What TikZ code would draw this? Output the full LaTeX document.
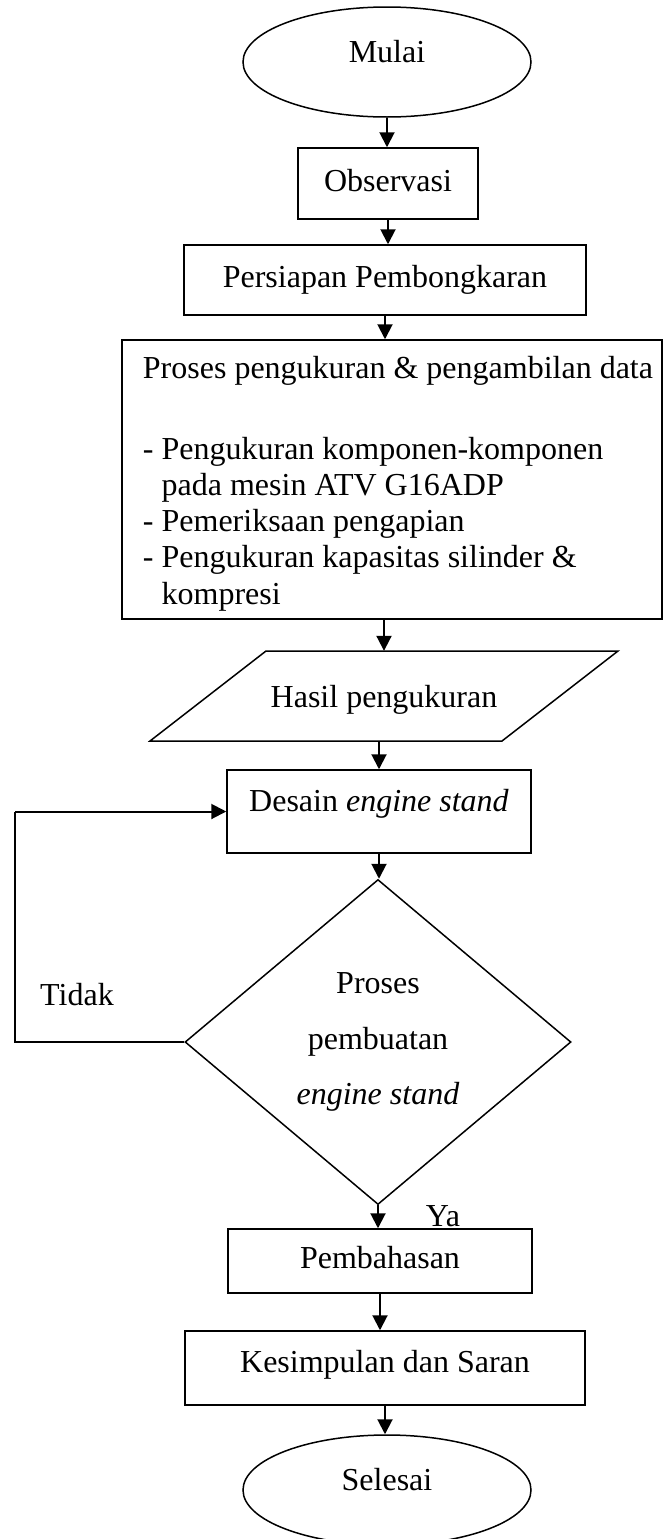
\documentclass[tikz,border=0pt]{standalone}
\usepackage{fontspec}
\setmainfont{Liberation Serif}
\usetikzlibrary{shapes.geometric,arrows.meta,calc}
\begin{document}
\begin{tikzpicture}[x=1pt,y=-1pt,
  every node/.style={font=\fontsize{32}{36.3}\selectfont},
  box/.style={draw, line width=1.5pt, rectangle, inner sep=0pt, text height=22pt, text depth=7pt},
  bigbox/.style={draw, line width=1.5pt, rectangle, inner sep=0pt},
  term/.style={draw, line width=1.5pt, ellipse, inner sep=0pt, minimum width=288pt, minimum height=110pt, text height=22pt, text depth=22pt},
  decision/.style={draw, line width=1.5pt, diamond, inner sep=0pt, minimum width=386pt, minimum height=325pt, align=center, font=\fontsize{32}{55.5}\selectfont},
  arr/.style={line width=2pt, -{Triangle[length=15pt,width=15pt]}},
  conn/.style={line width=2pt},
  outline/.style={line width=1.5pt},
  lbl/.style={inner sep=0pt}]
\useasboundingbox (0,0) rectangle (663,1539);

\node[term] (mulai) at (387,62) {Mulai};
\node[box, minimum width=180pt, minimum height=71pt] (obs) at (388,183.5) {Observasi};
\node[box, minimum width=402pt, minimum height=70pt] (pers) at (385,280) {Persiapan Pembongkaran};
\node[bigbox, minimum width=540pt, minimum height=279pt, text height=38pt, text depth=241pt] (proses) at (392,479.5)
  {\hspace*{12pt}\begin{tabular}[t]{@{}l@{}}
   Proses pengukuran \& pengambilan data\\[44.7pt]
   - Pengukuran komponen-komponen\\
   \hspace*{18.7pt}pada mesin ATV G16ADP\\
   - Pemeriksaan pengapian\\
   - Pengukuran kapasitas silinder \&\\
   \hspace*{18.7pt}kompresi
   \end{tabular}};
\node[rectangle, inner sep=0pt, minimum width=352pt, minimum height=90pt, text height=22pt, text depth=0pt] (hasil) at (384,696) {Hasil pengukuran};
\draw[outline] ($(hasil.center)+(-118,-45)$) -- ($(hasil.center)+(234,-45)$) -- ($(hasil.center)+(118,45)$) -- ($(hasil.center)+(-234,45)$) -- cycle;
\node[box, minimum width=304pt, minimum height=83pt, text depth=22pt] (desain) at (379,811.5) {Desain \textit{engine stand}};
\node[decision] (dia) at (378,1042) {Proses\\pembuatan\\\textit{engine stand}};
\node[box, minimum width=304pt, minimum height=64pt] (pemb) at (380,1261) {Pembahasan};
\node[box, minimum width=400pt, minimum height=74pt, text depth=14pt] (kes) at (385,1368) {Kesimpulan dan Saran};
\node[term] (sel) at (387,1490) {Selesai};

\node[lbl] (tidak) at (77,995) {Tidak};
\node[lbl] (ya) at (443,1216.5) {Ya};
\coordinate (loopx) at (15,0);

\draw[arr] (mulai.south) -- (mulai.south |- obs.north);
\draw[arr] (obs.south) -- (obs.south |- pers.north);
\draw[arr] (pers.south) -- (pers.south |- proses.north);
\draw[arr] (hasil.north |- proses.south) -- (hasil.north);
\draw[arr] (desain.north |- hasil.south) -- (desain.north);
\draw[arr] (desain.south) -- (desain.south |- dia.north);
\draw[arr] (dia.south) -- (dia.south |- pemb.north);
\draw[arr] (pemb.south) -- (pemb.south |- kes.north);
\draw[arr] (kes.south) -- (kes.south |- sel.north);
\draw[conn] (dia.west) -- (dia.west -| loopx) -- (loopx |- desain.west);
\draw[arr] (loopx |- desain.west) -- (desain.west);
\end{tikzpicture}
\end{document}
